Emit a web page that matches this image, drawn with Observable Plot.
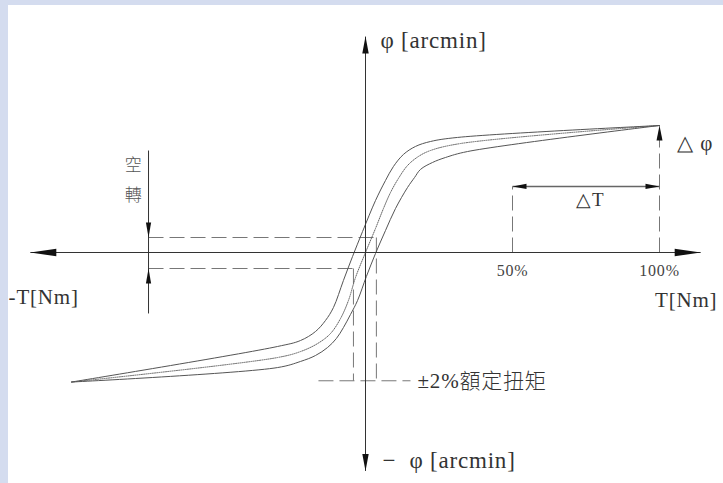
<!DOCTYPE html>
<html><head><meta charset="utf-8">
<script src="https://cdn.jsdelivr.net/npm/d3@7"></script>
<script src="https://cdn.jsdelivr.net/npm/@observablehq/plot@0.6"></script>
<style>
html,body{margin:0;padding:0;background:#d4dcef;overflow:hidden;}
#frame{position:absolute;left:8px;top:5px;width:715px;height:478px;background:#fff;}
#chart{position:absolute;left:0;top:0;}
</style></head><body><div id="frame"></div><div id="chart"></div>
<script>
// ---- curve data: torque T [% of rated], angle phi [arcmin, arbitrary units] ----
const leftBranchT   = [-100, -29.9, -22.1, -17.0, -13.6, -10.9, -7.5, -4.4, -1.0, 3.4, 6.8, 9.5, 12.9, 17.0, 22.1, 31.3, 100];
const leftBranchPhi = [-10.2, -7.40, -6.93, -6.22, -5.35, -4.33, -2.20, -0.31, 1.65, 4.09, 5.67, 6.77, 7.72, 8.35, 8.74, 9.06, 10.0];
const rightBranchT   = [-100, -29.9, -22.1, -17.0, -12.9, -9.9, -7.5, -5.1, -2.7, 0.3, 3.4, 6.8, 10.2, 14.3, 16.7, 18.7, 22.8, 27.2, 34.7, 100];
const rightBranchPhi = [-10.2, -9.06, -8.58, -8.11, -7.48, -6.77, -5.91, -4.88, -3.78, -1.89, -0.08, 1.73, 3.46, 5.12, 5.91, 6.54, 7.09, 7.48, 7.95, 10.0];
const meanT   = [-100, -29.9, -22.1, -16.3, -11.9, -8.5, -5.8, -3.4, 0, 3.4, 6.1, 8.5, 11.2, 14.3, 18.0, 22.1, 32.3, 100];
const meanPhi = [-10.2, -8.27, -7.80, -7.17, -6.38, -5.20, -3.78, -1.97, 0, 1.89, 3.46, 4.72, 5.83, 6.85, 7.56, 8.03, 8.58, 10.0];

// ---- axes & annotations ----
const axisT = [-114, 114];
const axisPhi = [-17.2, 17.0];
const tickT = [50, 100];
const tickLabels = ["50%", "100%"];
const backlashT = -73.8;            // x of the 空轉 indicator
const backlashPhi = [1.18, -1.26];  // dashed levels
const backlashLine = [8.03, -4.8];
const ratedT = [-4.1, 3.7];         // ±2% rated torque dashed verticals
const ratedPhi = -10.1;
const ratedLineT = [-16, 15.3];
const deltaTPhi = 5.2;
const endPhi = 10.0;

const curves = [
  ...leftBranchT.map((t, i) => ({T: t, phi: leftBranchPhi[i], c: "left"})),
  ...rightBranchT.map((t, i) => ({T: t, phi: rightBranchPhi[i], c: "right"}))
];
const mean = meanT.map((t, i) => ({T: t, phi: meanPhi[i]}));

const solidSegs = [
  {T1: axisT[0], p1: 0, T2: axisT[1], p2: 0},
  {T1: 0, p1: axisPhi[0], T2: 0, p2: axisPhi[1]},
  {T1: backlashT, p1: backlashLine[0], T2: backlashT, p2: backlashLine[1]}
];
const deltaTSeg = [{T1: tickT[0], p1: deltaTPhi, T2: tickT[1], p2: deltaTPhi}];
const dashedSegs = [
  {T1: backlashT, p1: backlashPhi[0], T2: ratedT[1], p2: backlashPhi[0]},
  {T1: backlashT, p1: backlashPhi[1], T2: ratedT[0], p2: backlashPhi[1]},
  {T1: ratedT[1], p1: backlashPhi[0], T2: ratedT[1], p2: ratedPhi},
  {T1: ratedT[0], p1: backlashPhi[1], T2: ratedT[0], p2: ratedPhi},
  {T1: ratedLineT[0], p1: ratedPhi, T2: ratedLineT[1], p2: ratedPhi},
  {T1: tickT[0], p1: 0, T2: tickT[0], p2: deltaTPhi},
  {T1: tickT[1], p1: 0, T2: tickT[1], p2: endPhi}
];

const heads = [
  {T: axisT[1], phi: 0, dir: "right", len: 26, hw: 3.8},
  {T: axisT[0], phi: 0, dir: "left", len: 26, hw: 3.8},
  {T: 0, phi: axisPhi[1], dir: "up", len: 17, hw: 3.2},
  {T: 0, phi: axisPhi[0], dir: "down", len: 17, hw: 3.2},
  {T: backlashT, phi: backlashPhi[0], dir: "down", len: 15, hw: 2.6},
  {T: backlashT, phi: backlashPhi[1], dir: "up", len: 15, hw: 2.6},
  {T: tickT[0], phi: deltaTPhi, dir: "left", len: 14, hw: 2.6},
  {T: tickT[1], phi: deltaTPhi, dir: "right", len: 14, hw: 2.6},
  {T: tickT[1], phi: endPhi, dir: "up", len: 15, hw: 3}
];

function headSymbol(dir, len, hw) {
  return {draw(ctx) {
    ctx.moveTo(0, 0);
    if (dir === "right") { ctx.lineTo(-len, -hw); ctx.lineTo(-len, hw); }
    else if (dir === "left") { ctx.lineTo(len, -hw); ctx.lineTo(len, hw); }
    else if (dir === "up") { ctx.lineTo(-hw, len); ctx.lineTo(hw, len); }
    else { ctx.lineTo(-hw, -len); ctx.lineTo(hw, -len); }
    ctx.closePath();
  }};
}

const serif = "Liberation Serif, Times New Roman, serif";
const cjk = "Liberation Serif, Noto Sans CJK TC, sans-serif";
const txt = "#333";

const labels = [
  {T: 5.1, phi: 16.7, s: "φ [arcmin]", size: 23, anchor: "start"},
  {T: 5.8, phi: -16.38, s: "−  φ [arcmin]", size: 23, anchor: "start"},
  {T: 106.1, phi: 8.6, s: "△ φ", size: 21, anchor: "start"},
  {T: 76.5, phi: 4.17, s: "△T", size: 19, anchor: "middle"},
  {T: 119.7, phi: -3.78, s: "T[Nm]", size: 21, anchor: "end"},
  {T: -121.4, phi: -3.54, s: "-T[Nm]", size: 21, anchor: "start"}
];
const tickLabelData = tickT.map((t, i) => ({T: t, phi: -1.42, s: tickLabels[i]}));
const ratedLabel = [{T: 17.7, phi: -10.16, s: "±2%額定扭矩"}];
const backlashLabel = [{T: -78.9, phi: 6.85, s: "空"}, {T: -78.9, phi: 4.49, s: "轉"}];

const chart = Plot.plot({
  width: 723, height: 483, margin: 0,
  style: {background: "transparent", overflow: "visible"},
  x: {domain: [-100, 100], range: [71, 659], axis: null},
  y: {domain: [-10, 10], range: [379, 125], axis: null},
  marks: [
    Plot.link(dashedSegs, {x1: "T1", y1: "p1", x2: "T2", y2: "p2", stroke: "#777", strokeWidth: 1, strokeDasharray: "15,6"}),
    Plot.line(curves, {x: "T", y: "phi", z: "c", curve: "catmull-rom", stroke: "#555", strokeWidth: 1}),
    Plot.line(mean, {x: "T", y: "phi", curve: "catmull-rom", stroke: "#555", strokeWidth: 0.9, strokeDasharray: "1,1.2"}),
    Plot.link(solidSegs, {x1: "T1", y1: "p1", x2: "T2", y2: "p2", stroke: "#333", strokeWidth: 1}),
    Plot.link(deltaTSeg, {x1: "T1", y1: "p1", x2: "T2", y2: "p2", stroke: "#666", strokeWidth: 1.4}),
    ...heads.map(h => Plot.dot([h], {x: "T", y: "phi", symbol: headSymbol(h.dir, h.len, h.hw), fill: "#111", stroke: "none", r: 3})),
    ...labels.map(l => Plot.text([l], {x: "T", y: "phi", text: "s", fontSize: l.size, fontFamily: serif, textAnchor: l.anchor, fill: txt})),
    Plot.text(tickLabelData, {x: "T", y: "phi", text: "s", fontSize: 16, fontFamily: serif, fill: "#444"}),
    Plot.text(ratedLabel, {x: "T", y: "phi", text: "s", fontSize: 21, fontFamily: cjk, fontWeight: 300, textAnchor: "start", fill: txt}),
    Plot.text(backlashLabel, {x: "T", y: "phi", text: "s", fontSize: 17, fontFamily: "Noto Sans CJK TC, sans-serif", fontWeight: 300, fill: "#555"})
  ]
});
d3.select(chart).selectAll("text").style("letter-spacing", "0.8px");
document.getElementById("chart").appendChild(chart);
</script>
</body></html>
